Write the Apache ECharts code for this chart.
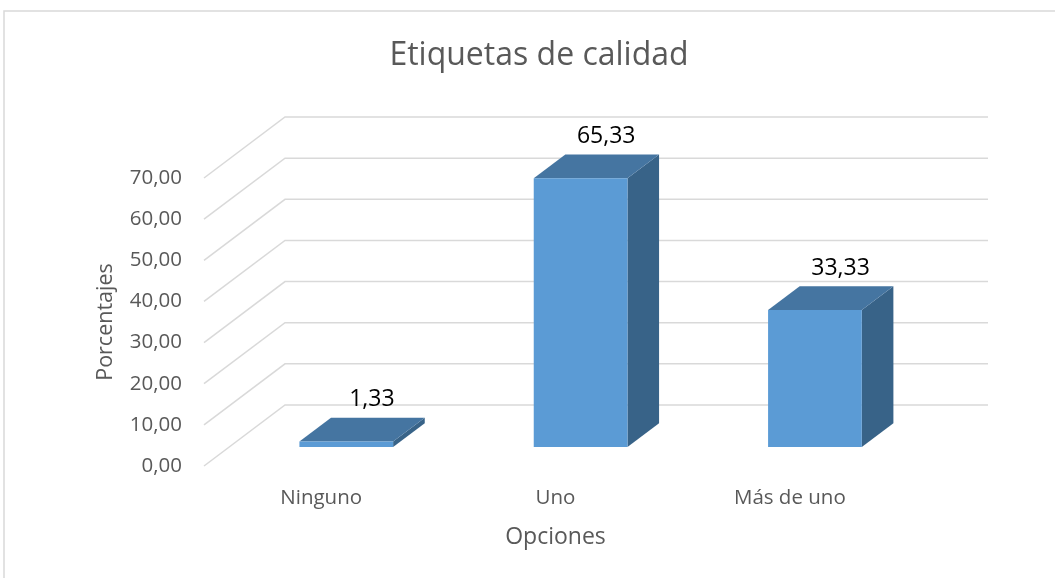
<!DOCTYPE html>
<html>
<head>
<meta charset="utf-8">
<title>Etiquetas de calidad</title>
<script src="https://cdn.jsdelivr.net/npm/echarts@6/dist/echarts.min.js"></script>
<style>
  html, body { margin: 0; padding: 0; background: #fff; }
  #chart { width: 1055px; height: 578px; }
</style>
</head>
<body>
<div id="chart"></div>
<script>
// Data
const categories = ['Ninguno', 'Uno', 'Más de uno'];
const percentages = [1.33, 65.33, 33.33];
const yTicks = [0, 10, 20, 30, 40, 50, 60, 70];

// Pseudo-3D geometry: how far the back wall sits from the front plane (px)
const DEPTH_X = 81;
const DEPTH_Y = -61;
// Bar position inside the depth (fraction from front to back)
const BAR_FRONT = 0.31;
const BAR_BACK = 0.70;
const BAR_WIDTH = 0.40;

const FONT = 'Open Sans, Lato, sans-serif';
const fmt = v => v.toFixed(2).replace('.', ',');

const chart = echarts.init(document.getElementById('chart'), null, { renderer: 'canvas' });

function renderWall(params, api) {
  const cs = params.coordSys;
  const y = api.coord([0, api.value(1)])[1];
  return {
    type: 'polyline',
    shape: { points: [[cs.x, y], [cs.x + DEPTH_X, y + DEPTH_Y], [cs.x + cs.width + DEPTH_X, y + DEPTH_Y]] },
    style: { stroke: '#D9D9D9', lineWidth: 1.5, fill: null }
  };
}

function renderBox(params, api) {
  const i = api.value(0);
  const v = api.value(1);
  const base = api.coord([i, 0]);
  const top = api.coord([i, v]);
  const bw = api.size([1, 0])[0] * BAR_WIDTH;
  const x0 = base[0] - bw / 2 + DEPTH_X * BAR_FRONT;
  const x1 = x0 + bw;
  const yb = base[1] + DEPTH_Y * BAR_FRONT;
  const yt = top[1] + DEPTH_Y * BAR_FRONT;
  const ddx = DEPTH_X * (BAR_BACK - BAR_FRONT);
  const ddy = DEPTH_Y * (BAR_BACK - BAR_FRONT);
  return {
    type: 'group',
    children: [
      {
        type: 'polygon',
        shape: { points: [[x1, yt], [x1 + ddx, yt + ddy], [x1 + ddx, yb + ddy], [x1, yb]] },
        style: { fill: '#386388' }
      },
      {
        type: 'polygon',
        shape: { points: [[x0, yt], [x1, yt], [x1 + ddx, yt + ddy], [x0 + ddx, yt + ddy]] },
        style: { fill: '#4575A1' }
      },
      {
        type: 'rect',
        shape: { x: x0, y: yt, width: bw, height: yb - yt },
        style: { fill: '#5B9BD5' }
      },
      {
        type: 'text',
        style: {
          x: (x0 + x1) / 2 + ddx - 6,
          y: yt + ddy - 18,
          text: fmt(v),
          fill: '#000000',
          font: '23px ' + FONT,
          align: 'center',
          verticalAlign: 'middle'
        }
      }
    ]
  };
}

chart.setOption({
  animation: false,
  backgroundColor: '#ffffff',
  graphic: [
    {
      type: 'rect',
      x: 4, y: 11,
      shape: { x: 0, y: 0, width: 1200, height: 700 },
      style: { fill: null, stroke: '#D9D9D9', lineWidth: 1.5 },
      silent: true
    }
  ],
  title: {
    text: 'Etiquetas de calidad',
    left: 534,
    top: 35,
    textAlign: 'center',
    textStyle: { fontFamily: FONT, fontSize: 32, fontWeight: 'normal', color: '#595959' }
  },
  grid: { left: 204, right: 148, top: 178, bottom: 112 },
  xAxis: {
    type: 'category',
    data: categories,
    name: 'Opciones',
    nameLocation: 'middle',
    nameGap: 60,
    nameTextStyle: { fontFamily: FONT, fontSize: 23, color: '#595959' },
    axisLine: { show: false },
    axisTick: { show: false },
    axisLabel: { margin: 22, fontFamily: FONT, fontSize: 20.5, color: '#595959' },
    splitLine: { show: false }
  },
  yAxis: {
    type: 'value',
    min: 0,
    max: 70,
    interval: 10,
    name: 'Porcentajes',
    nameLocation: 'middle',
    nameGap: 87,
    nameTextStyle: { fontFamily: FONT, fontSize: 21.5, color: '#595959' },
    axisLine: { show: false },
    axisTick: { show: false },
    axisLabel: { margin: 22, fontFamily: FONT, fontSize: 20.5, color: '#595959', formatter: fmt },
    splitLine: { show: false }
  },
  series: [
    {
      type: 'custom',
      clip: false,
      silent: true,
      renderItem: renderWall,
      data: yTicks.map(t => [0, t]),
      z: 1
    },
    {
      type: 'custom',
      clip: false,
      renderItem: renderBox,
      data: percentages.map((p, i) => [i, p]),
      z: 2
    }
  ]
});
</script>
</body>
</html>
